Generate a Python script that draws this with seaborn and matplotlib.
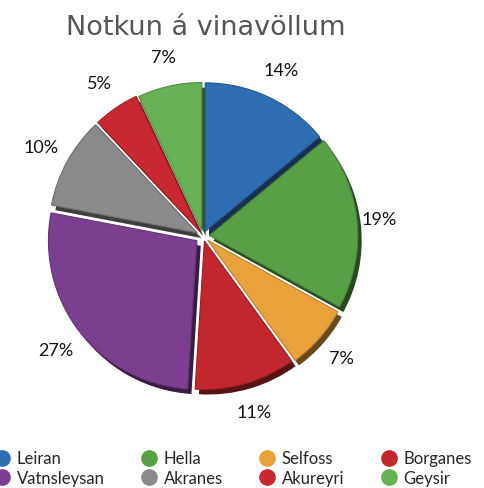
import numpy as np
import pandas as pd
import seaborn as sns
import matplotlib.pyplot as plt
from matplotlib.lines import Line2D
import matplotlib.colors as mcolors

# gogn
stadir = ['Leiran', 'Hella', 'Selfoss', 'Borganes', 'Vatnsleysan', 'Akranes', 'Akureyri', 'Geysir']
hlutfall = [14, 19, 7, 11, 27, 10, 5, 7]
litir = ['#2f6db3', '#58a045', '#e9a23b', '#c1272d', '#7c3f8f', '#8a8a8a', '#c8282f', '#66b056']
sprengja = [0.04, 0.05, 0.05, 0.04, 0.06, 0.05, 0.05, 0.04]

sns.set_theme(style='white')
plt.rcParams['font.family'] = ['Lato', 'DejaVu Sans']

fig = plt.figure(figsize=(4.84, 4.89), dpi=100)
ax = fig.add_axes([43 / 484, 92 / 489, 320 / 484, 320 / 489])
ax.set_xlim(-1.2, 1.2)
ax.set_ylim(-1.2, 1.2)
ax.set_aspect('equal')
ax.axis('off')

R = 1.16

# dokkur skuggi fyrir "3D" ahrif
dokkir = [tuple(np.array(mcolors.to_rgb(c)) * 0.45) for c in litir]
ax.pie(hlutfall, colors=dokkir, startangle=90, counterclock=False, radius=R,
       explode=sprengja, center=(0.03, -0.04),
       wedgeprops={'linewidth': 0})

wedges, texts, pcts = ax.pie(hlutfall, colors=litir, startangle=90, counterclock=False,
                             radius=R, explode=sprengja,
                             autopct='%d%%', pctdistance=1.2,
                             wedgeprops={'linewidth': 0},
                             textprops={'fontsize': 13, 'color': '#111111'})

for w, c in zip(wedges, litir):
    w.set_edgecolor(tuple(np.array(mcolors.to_rgb(c)) * 0.8))
    w.set_linewidth(0.8)

# 19% merkid adeins nær
x, y = pcts[1].get_position()
pcts[1].set_position((x * 0.96, y))

fig.text(0.425, 0.942, 'Notkun á vinavöllum', ha='center', va='center',
         fontsize=19.5, color='#555555', family=['DejaVu Sans'])

# legend rodun: lina fyrir linu
handles = [Line2D([0], [0], marker='o', linestyle='', markersize=11,
                  markerfacecolor=c, markeredgecolor=c) for c in litir]
rod = [0, 4, 1, 5, 2, 6, 3, 7]
fig.legend([handles[i] for i in rod], [stadir[i] for i in rod], ncol=4, loc='lower left',
           bbox_to_anchor=(-0.045, -0.026), frameon=False, fontsize=12,
           handletextpad=0.4, columnspacing=2.15, labelspacing=0.2,
           handlelength=1.0)

fig.savefig('out.png', dpi=100)
